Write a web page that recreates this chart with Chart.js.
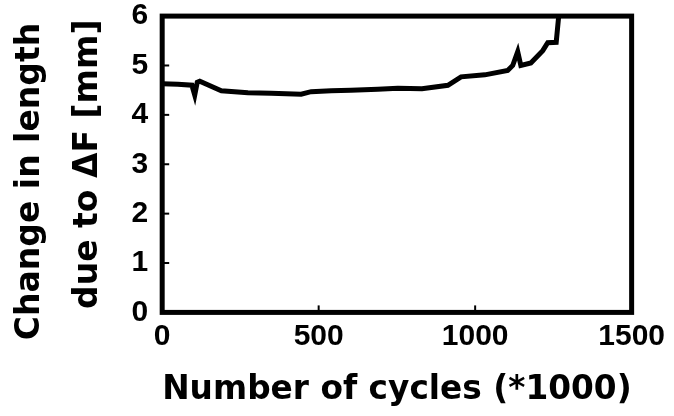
<!DOCTYPE html>
<html>
<head>
<meta charset="utf-8">
<script src="https://cdn.jsdelivr.net/npm/chart.js@4/dist/chart.umd.min.js"></script>
<style>
  html, body { margin: 0; padding: 0; background: #fff; }
  canvas { display: block; }
</style>
</head>
<body>
<canvas id="myChart" width="674" height="416"></canvas>
<script>
// values (cycles in thousands, length change in mm)
const cycles = [0, 50, 95, 104, 112, 120, 189, 274, 348, 444, 476, 540, 603, 689, 753, 830, 913, 955, 1031, 1104, 1120, 1136, 1146, 1178, 1216, 1232, 1259, 1267];
const lengthChange = [4.63, 4.62, 4.60, 4.40, 4.66, 4.68, 4.49, 4.45, 4.44, 4.42, 4.47, 4.49, 4.50, 4.52, 4.54, 4.53, 4.60, 4.77, 4.81, 4.90, 5.00, 5.28, 5.00, 5.05, 5.30, 5.46, 5.47, 6.0];
const xTicks = [0, 500, 1000, 1500];
const yTicks = [0, 1, 2, 3, 4, 5, 6];

const xTitle = 'Number of cycles (*1000)';
// trailing nbsp nudges the first line down a little, like the original
const yTitle = ['Change in length\u00a0\u00a0\u00a0', 'due to \u0394F [mm]'];

const tickFont = { family: '"Liberation Sans", Arial, sans-serif', size: 30, weight: 'bold', lineHeight: 1 };
const titleFont = { family: '"DejaVu Sans", sans-serif', size: 33, weight: 'bold' };

// box round the plot plus short inward tick marks
const frame = {
  id: 'frame',
  afterDatasetsDraw(chart) {
    const { ctx, chartArea: a, scales: { x, y } } = chart;
    ctx.save();
    ctx.strokeStyle = '#000';
    ctx.lineWidth = 2;
    yTicks.slice(1, -1).forEach(v => {
      const py = y.getPixelForValue(v);
      ctx.beginPath(); ctx.moveTo(a.left, py); ctx.lineTo(a.left + 7, py); ctx.stroke();
    });
    xTicks.slice(1, -1).forEach(v => {
      const px = x.getPixelForValue(v);
      ctx.beginPath(); ctx.moveTo(px, a.bottom); ctx.lineTo(px, a.bottom - 7); ctx.stroke();
    });
    ctx.lineWidth = 5;
    ctx.strokeRect(a.left, a.top, a.right - a.left, a.bottom - a.top);
    ctx.restore();
  }
};

new Chart(document.getElementById('myChart'), {
  type: 'line',
  data: {
    datasets: [{
      data: cycles.map((c, i) => ({ x: c, y: lengthChange[i] })),
      borderColor: '#000',
      borderWidth: 5,
      pointRadius: 0,
      tension: 0,
      fill: false
    }]
  },
  options: {
    responsive: false,
    animation: false,
    devicePixelRatio: 1,
    layout: { padding: { top: 0, right: 2, left: 0, bottom: 0 } },
    plugins: { legend: { display: false }, tooltip: { enabled: false } },
    scales: {
      x: {
        type: 'linear',
        min: 0,
        max: 1500,
        afterBuildTicks: s => { s.ticks = xTicks.map(v => ({ value: v })); },
        grid: { display: false, drawTicks: false },
        border: { display: false },
        ticks: { color: '#000', font: tickFont, padding: 9, maxRotation: 0, callback: v => String(v) },
        title: { display: true, text: xTitle, color: '#000', font: titleFont, padding: { top: 10, bottom: 6 } }
      },
      y: {
        min: 0,
        max: 6,
        afterBuildTicks: s => { s.ticks = yTicks.map(v => ({ value: v })); },
        grid: { display: false, drawTicks: false },
        border: { display: false },
        ticks: { color: '#000', font: { ...tickFont, lineHeight: 0.14 }, padding: 14, callback: v => String(v) },
        title: { display: true, text: yTitle, color: '#000', font: { ...titleFont, lineHeight: 1.75 }, padding: { top: 2, bottom: 0 } }
      }
    }
  },
  plugins: [frame]
});
</script>
</body>
</html>
